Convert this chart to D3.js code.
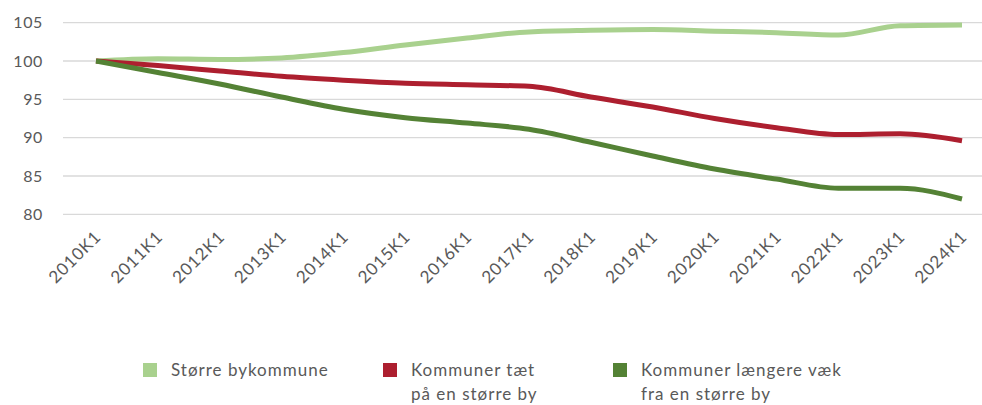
<!DOCTYPE html>
<html>
<head>
<meta charset="utf-8">
<script src="https://cdn.jsdelivr.net/npm/d3@7"></script>
<style>
  body { margin: 0; background: #fff; }
  text { font-family: Lato, "Open Sans", sans-serif; fill: #595959; }
</style>
</head>
<body>
<script>
var quarters = ["2010K1","2011K1","2012K1","2013K1","2014K1","2015K1","2016K1","2017K1",
                "2018K1","2019K1","2020K1","2021K1","2022K1","2023K1","2024K1"];
var yTicks = [80, 85, 90, 95, 100, 105];

var stoerreBy = [100, 100.3, 100.2, 100.4, 101.1, 102.1, 103.0, 103.8, 104.0, 104.1, 103.9, 103.7, 103.4, 104.6, 104.7];
var taetPaa   = [100, 99.4, 98.7, 98.0, 97.5, 97.1, 96.9, 96.7, 95.3, 94.0, 92.5, 91.3, 90.4, 90.5, 89.6];
var laengere  = [100, 98.5, 97.0, 95.3, 93.7, 92.6, 91.9, 91.1, 89.4, 87.6, 85.9, 84.6, 83.4, 83.4, 82.0];

var seriesNames = ["Større bykommune", "Kommuner tæt|på en større by", "Kommuner længere væk|fra en større by"];
var colors = ["#a9d18e", "#ad1f2f", "#548235"];
var allSeries = [stoerreBy, taetPaa, laengere];

var W = 982, H = 405;
var svg = d3.select("body").append("svg").attr("width", W).attr("height", H);

var x = d3.scalePoint().domain(quarters).range([96, 962]);
var y = d3.scaleLinear().domain([80, 105]).range([214.3, 22.7]);

// gridlines
svg.append("g").selectAll("line")
  .data(yTicks).enter().append("line")
  .attr("x1", 63).attr("x2", 994)
  .attr("y1", function(d) { return y(d); })
  .attr("y2", function(d) { return y(d); })
  .attr("stroke", "#d9d9d9").attr("stroke-width", 1.3);

// y labels
svg.append("g").selectAll("text")
  .data(yTicks).enter().append("text")
  .attr("x", 43).attr("y", function(d) { return y(d); })
  .attr("dy", "0.36em")
  .attr("text-anchor", "end")
  .style("font-size", "16px")
  .style("letter-spacing", "0.6px")
  .text(function(d) { return d; });

// x labels
svg.append("g").selectAll("text")
  .data(quarters).enter().append("text")
  .attr("transform", function(d) { return "translate(" + (x(d) + 6) + ",238) rotate(-45)"; })
  .attr("text-anchor", "end")
  .style("font-size", "17px")
  .style("letter-spacing", "0.8px")
  .text(function(d) { return d; });

var line = d3.line()
  .x(function(d, i) { return x(quarters[i]); })
  .y(function(d) { return y(d); })
  .curve(d3.curveMonotoneX);

svg.append("g").selectAll("path")
  .data(allSeries).enter().append("path")
  .attr("d", line)
  .attr("fill", "none")
  .attr("stroke", function(d, i) { return colors[i]; })
  .attr("stroke-width", 5)
  .attr("stroke-linejoin", "round");

// legend
var legendX = [143, 383, 613];
var lg = svg.append("g").selectAll("g")
  .data(seriesNames).enter().append("g")
  .attr("transform", function(d, i) { return "translate(" + legendX[i] + ",363)"; });

lg.append("rect")
  .attr("width", 14).attr("height", 14)
  .attr("fill", function(d, i) { return colors[i]; });

lg.append("text")
  .attr("x", 28).attr("y", 13)
  .style("font-size", "17px")
  .style("letter-spacing", "1px")
  .selectAll("tspan")
  .data(function(d) { return d.split("|"); })
  .enter().append("tspan")
  .attr("x", 28)
  .attr("dy", function(d, i) { return i === 0 ? 0 : 24; })
  .text(function(d) { return d; });
</script>
</body>
</html>
